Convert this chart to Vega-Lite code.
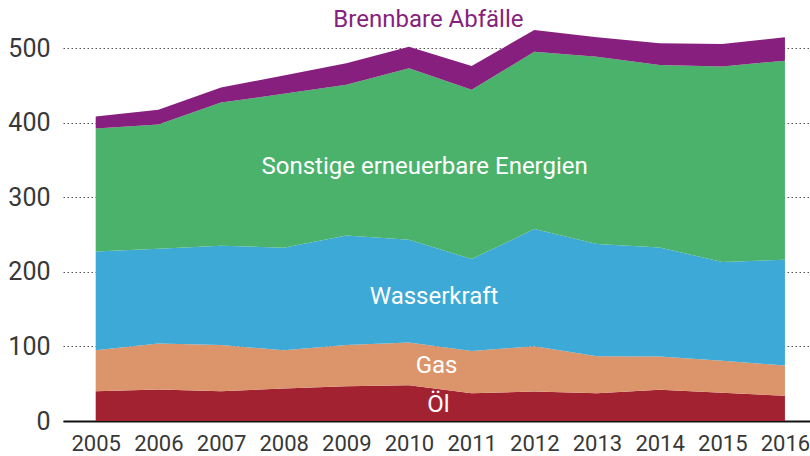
{
  "$schema": "https://vega.github.io/schema/vega-lite/v6.json",
  "width": 747,
  "height": 421,
  "autosize": {"type": "none"},
  "padding": {"left": 63, "top": 0, "right": 0, "bottom": 35},
  "background": "white",
  "config": {
    "view": {"stroke": null},
    "font": "Roboto",
    "axis": {"labelFont": "Roboto", "labelColor": "#383838", "labelFontWeight": 400}
  },
  "datasets": {
    "energy": [
      {"year": 2005, "source": "Öl", "value": 40.0},
      {"year": 2006, "source": "Öl", "value": 42.2},
      {"year": 2007, "source": "Öl", "value": 40.0},
      {"year": 2008, "source": "Öl", "value": 43.6},
      {"year": 2009, "source": "Öl", "value": 46.7},
      {"year": 2010, "source": "Öl", "value": 48.0},
      {"year": 2011, "source": "Öl", "value": 37.3},
      {"year": 2012, "source": "Öl", "value": 39.5},
      {"year": 2013, "source": "Öl", "value": 37.3},
      {"year": 2014, "source": "Öl", "value": 41.8},
      {"year": 2015, "source": "Öl", "value": 37.8},
      {"year": 2016, "source": "Öl", "value": 33.8},
      {"year": 2005, "source": "Gas", "value": 54.9},
      {"year": 2006, "source": "Gas", "value": 61.7},
      {"year": 2007, "source": "Gas", "value": 62.1},
      {"year": 2008, "source": "Gas", "value": 51.3},
      {"year": 2009, "source": "Gas", "value": 55.4},
      {"year": 2010, "source": "Gas", "value": 57.2},
      {"year": 2011, "source": "Gas", "value": 56.8},
      {"year": 2012, "source": "Gas", "value": 60.8},
      {"year": 2013, "source": "Gas", "value": 49.6},
      {"year": 2014, "source": "Gas", "value": 44.7},
      {"year": 2015, "source": "Gas", "value": 42.9},
      {"year": 2016, "source": "Gas", "value": 40.6},
      {"year": 2005, "source": "Wasserkraft", "value": 132.7},
      {"year": 2006, "source": "Wasserkraft", "value": 127.3},
      {"year": 2007, "source": "Wasserkraft", "value": 133.2},
      {"year": 2008, "source": "Wasserkraft", "value": 137.7},
      {"year": 2009, "source": "Wasserkraft", "value": 147.0},
      {"year": 2010, "source": "Wasserkraft", "value": 138.1},
      {"year": 2011, "source": "Wasserkraft", "value": 123.3},
      {"year": 2012, "source": "Wasserkraft", "value": 157.3},
      {"year": 2013, "source": "Wasserkraft", "value": 150.6},
      {"year": 2014, "source": "Wasserkraft", "value": 146.5},
      {"year": 2015, "source": "Wasserkraft", "value": 132.7},
      {"year": 2016, "source": "Wasserkraft", "value": 142.1},
      {"year": 2005, "source": "Sonstige erneuerbare Energien", "value": 164.9},
      {"year": 2006, "source": "Sonstige erneuerbare Energien", "value": 166.7},
      {"year": 2007, "source": "Sonstige erneuerbare Energien", "value": 192.0},
      {"year": 2008, "source": "Sonstige erneuerbare Energien", "value": 206.6},
      {"year": 2009, "source": "Sonstige erneuerbare Energien", "value": 202.0},
      {"year": 2010, "source": "Sonstige erneuerbare Energien", "value": 230.2},
      {"year": 2011, "source": "Sonstige erneuerbare Energien", "value": 227.0},
      {"year": 2012, "source": "Sonstige erneuerbare Energien", "value": 238.1},
      {"year": 2013, "source": "Sonstige erneuerbare Energien", "value": 251.5},
      {"year": 2014, "source": "Sonstige erneuerbare Energien", "value": 244.9},
      {"year": 2015, "source": "Sonstige erneuerbare Energien", "value": 262.3},
      {"year": 2016, "source": "Sonstige erneuerbare Energien", "value": 267.1},
      {"year": 2005, "source": "Brennbare Abfälle", "value": 16.1},
      {"year": 2006, "source": "Brennbare Abfälle", "value": 19.7},
      {"year": 2007, "source": "Brennbare Abfälle", "value": 20.2},
      {"year": 2008, "source": "Brennbare Abfälle", "value": 24.6},
      {"year": 2009, "source": "Brennbare Abfälle", "value": 29.0},
      {"year": 2010, "source": "Brennbare Abfälle", "value": 28.9},
      {"year": 2011, "source": "Brennbare Abfälle", "value": 32.1},
      {"year": 2012, "source": "Brennbare Abfälle", "value": 29.1},
      {"year": 2013, "source": "Brennbare Abfälle", "value": 26.0},
      {"year": 2014, "source": "Brennbare Abfälle", "value": 29.1},
      {"year": 2015, "source": "Brennbare Abfälle", "value": 30.3},
      {"year": 2016, "source": "Brennbare Abfälle", "value": 31.4}
    ],
    "labels": [
      {"label": "Sonstige erneuerbare Energien", "year": 2010.25, "value": 341, "inside": true},
      {"label": "Wasserkraft", "year": 2010.4, "value": 167, "inside": true},
      {"label": "Gas", "year": 2010.44, "value": 74, "inside": true},
      {"label": "Öl", "year": 2010.47, "value": 21, "inside": true},
      {"label": "Brennbare Abfälle", "year": 2010.31, "value": 538, "inside": false}
    ]
  },
  "layer": [
    {
      "data": {"name": "energy"},
      "transform": [
        {"calculate": "indexof(['Öl', 'Gas', 'Wasserkraft', 'Sonstige erneuerbare Energien', 'Brennbare Abfälle'], datum.source)", "as": "stackOrder"}
      ],
      "mark": {"type": "area", "interpolate": "linear"},
      "encoding": {
        "x": {
          "field": "year", "type": "quantitative",
          "scale": {"domain": [2004.478, 2016.4], "nice": false, "zero": false},
          "axis": {
            "values": [2005, 2006, 2007, 2008, 2009, 2010, 2011, 2012, 2013, 2014, 2015, 2016],
            "format": "d", "title": null, "grid": false, "ticks": false,
            "domainColor": "#111111", "domainWidth": 2, "labelPadding": 12,
            "labelFontSize": 22, "labelBound": false, "labelOverlap": false
          }
        },
        "y": {
          "field": "value", "type": "quantitative", "stack": "zero",
          "scale": {"domain": [0, 565], "nice": false},
          "axis": {
            "values": [0, 100, 200, 300, 400, 500], "title": null, "domain": false, "ticks": false,
            "labelPadding": 13, "labelFontSize": 25,
            "gridColor": "#555555", "gridDash": [1.5, 2.5], "gridWidth": 1.1
          }
        },
        "order": {"field": "stackOrder", "type": "quantitative", "sort": "ascending"},
        "color": {
          "field": "source", "type": "nominal",
          "scale": {
            "domain": ["Öl", "Gas", "Wasserkraft", "Sonstige erneuerbare Energien", "Brennbare Abfälle"],
            "range": ["#A32231", "#DC956A", "#3DA9D6", "#4BB26C", "#871F7E"]
          },
          "legend": null
        }
      }
    },
    {
      "data": {"name": "labels"},
      "transform": [{"filter": "datum.inside"}],
      "mark": {"type": "text", "fontSize": 24, "fontWeight": 400, "color": "white", "align": "center", "baseline": "middle"},
      "encoding": {
        "x": {"field": "year", "type": "quantitative"},
        "y": {"field": "value", "type": "quantitative"},
        "text": {"field": "label"}
      }
    },
    {
      "data": {"name": "labels"},
      "transform": [{"filter": "!datum.inside"}],
      "mark": {"type": "text", "fontSize": 24, "fontWeight": 400, "color": "#871F7E", "align": "center", "baseline": "middle"},
      "encoding": {
        "x": {"field": "year", "type": "quantitative"},
        "y": {"field": "value", "type": "quantitative"},
        "text": {"field": "label"}
      }
    }
  ]
}
